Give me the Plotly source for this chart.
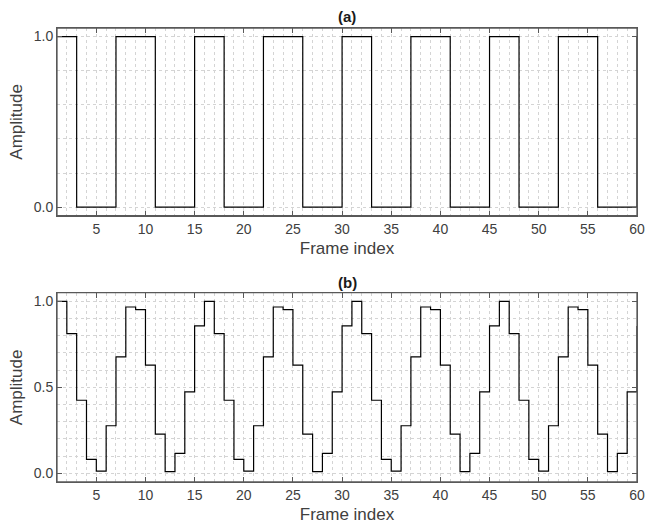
import plotly.graph_objects as go

frame_index = list(range(1, 61))

square_amp = [1, 1, 0, 0, 0, 0, 1, 1, 1, 1,
              0, 0, 0, 0, 1, 1, 1, 0, 0, 0,
              0, 1, 1, 1, 1, 0, 0, 0, 0, 1,
              1, 1, 0, 0, 0, 0, 1, 1, 1, 1,
              0, 0, 0, 0, 1, 1, 1, 0, 0, 0,
              0, 1, 1, 1, 1, 0, 0, 0, 0, 1]

smooth_amp = [1.000, 0.812, 0.425, 0.081, 0.013, 0.277, 0.677, 0.967, 0.952, 0.629,
              0.228, 0.010, 0.116, 0.474, 0.857, 1.000, 0.812, 0.425, 0.081, 0.013,
              0.277, 0.677, 0.967, 0.952, 0.629, 0.228, 0.010, 0.116, 0.474, 0.857,
              1.000, 0.812, 0.425, 0.081, 0.013, 0.277, 0.677, 0.967, 0.952, 0.629,
              0.228, 0.010, 0.116, 0.474, 0.857, 1.000, 0.812, 0.425, 0.081, 0.013,
              0.277, 0.677, 0.967, 0.952, 0.629, 0.228, 0.010, 0.116, 0.474, 0.857]

x_ticks = [5, 10, 15, 20, 25, 30, 35, 40, 45, 50, 55, 60]
ya_ticks = [0.0, 1.0]
yb_ticks = [0.0, 0.5, 1.0]

TXT = "#404040"
FONT = "Liberation Sans, Arial, Helvetica, sans-serif"
GRID = "#d4d4d4"
BORDER = "#595959"

W, H = 645, 531
ML, MR, MT, MB = 57, 8, 28, 49

fig = go.Figure()
fig.add_trace(go.Scatter(x=frame_index, y=square_amp, mode="lines",
                         line=dict(shape="hv", color="black", width=1.2),
                         xaxis="x", yaxis="y", showlegend=False))
fig.add_trace(go.Scatter(x=frame_index, y=smooth_amp, mode="lines",
                         line=dict(shape="hv", color="black", width=1.2),
                         xaxis="x2", yaxis="y2", showlegend=False))

def xax(anchor):
    return dict(range=[1, 60], tickvals=x_ticks, ticktext=[str(v) for v in x_ticks],
                ticks="inside", ticklen=5, tickcolor=BORDER, tickwidth=1,
                showline=True, linecolor=BORDER, linewidth=1, mirror="ticks",
                showgrid=True, gridcolor=GRID, griddash="dot", gridwidth=1,
                minor=dict(dtick=1, tick0=0, showgrid=True, gridcolor=GRID, griddash="dot", ticks=""),
                zeroline=False, anchor=anchor, automargin=False, domain=[0, 1],
                ticklabeloverflow="allow",
                tickfont=dict(family=FONT, size=14, color=TXT),
                title=dict(text="Frame index", font=dict(family=FONT, size=17, color=TXT), standoff=6))

def yax(anchor, domain, ticks, minor_dt):
    return dict(range=[-0.05, 1.05], tickvals=ticks, ticktext=[f"{v:.1f}" for v in ticks],
                ticks="inside", ticklen=5, tickcolor=BORDER, tickwidth=1,
                showline=True, linecolor=BORDER, linewidth=1, mirror="ticks",
                showgrid=True, gridcolor=GRID, griddash="dot", gridwidth=1,
                minor=dict(dtick=minor_dt, tick0=0, showgrid=True, gridcolor=GRID, griddash="dot", ticks=""),
                zeroline=False, anchor=anchor, domain=domain, automargin=False,
                tickfont=dict(family=FONT, size=14, color=TXT),
                title=dict(text="Amplitude", font=dict(family=FONT, size=17, color=TXT), standoff=6))

plot_h = H - MT - MB
def ypix(p):
    # p: pixel position in the window (top-left origin)
    return (H - MB - p) / plot_h

fig.update_layout(
    width=W, height=H,
    margin=dict(l=ML, r=MR, t=MT, b=MB),
    paper_bgcolor="white", plot_bgcolor="white",
    xaxis=xax("y"),
    yaxis=yax("x", [ypix(215.7), 1.0], ya_ticks, 0.2),
    xaxis2=xax("y2"),
    yaxis2=yax("x2", [0.0, ypix(292.7)], yb_ticks, 0.1),
    annotations=[
        dict(text="<b>(a)</b>", x=0.5, xref="paper", y=ypix(17), yref="paper", showarrow=False,
             yanchor="middle", font=dict(family=FONT, size=15, color="#1a1a1a")),
        dict(text="<b>(b)</b>", x=0.5, xref="paper", y=ypix(282), yref="paper", showarrow=False,
             yanchor="middle", font=dict(family=FONT, size=15, color="#1a1a1a")),
    ],
    shapes=[
        dict(type="rect", xref="x domain", yref="y domain", x0=0, x1=1, y0=0, y1=1,
             line=dict(color=BORDER, width=1.3), layer="above"),
        dict(type="rect", xref="x2 domain", yref="y2 domain", x0=0, x1=1, y0=0, y1=1,
             line=dict(color=BORDER, width=1.3), layer="above"),
    ],
)

fig.write_html("out.html", config={"displayModeBar": False},
               post_script="document.body.style.margin='0';document.body.style.overflow='hidden';")
